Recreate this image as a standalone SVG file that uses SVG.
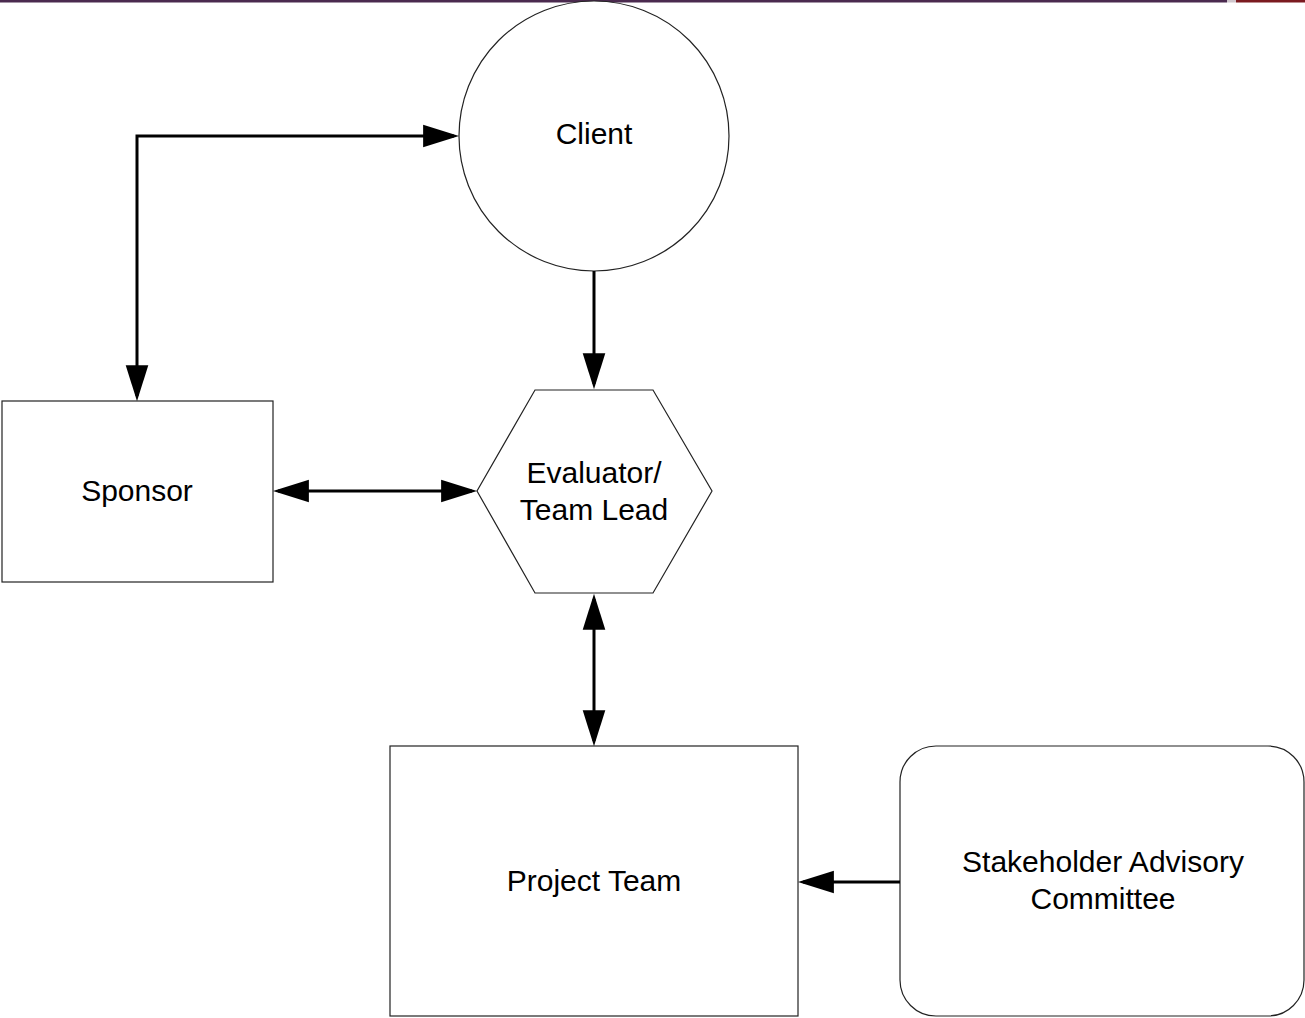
<svg xmlns="http://www.w3.org/2000/svg" width="1305" height="1018" viewBox="0 0 1305 1018">
<style>
.shape{fill:#fff;stroke:#222;stroke-width:1.2}
.lbl{font-family:"Liberation Sans",Arial,sans-serif;font-size:30px;fill:#000;text-anchor:middle}
.conn{fill:none;stroke:#000;stroke-width:3}
</style>
<defs>
<marker id="ah" markerUnits="userSpaceOnUse" markerWidth="36" markerHeight="24" viewBox="0 0 35 22" refX="30" refY="11" orient="auto-start-reverse">
<path d="M0,0 L35,11 L0,22 z" fill="#000"/>
</marker>
</defs>
<rect width="1305" height="1018" fill="#fff"/>
<rect x="0" y="0" width="1227" height="2.5" fill="#4b2a4f"/>
<rect x="1227" y="0" width="9" height="2.5" fill="#cfc6cc"/>
<rect x="1236" y="0" width="69" height="2.5" fill="#7b1a20"/>
<g id="client"><circle class="shape" cx="594" cy="136" r="135"/><text class="lbl" x="594" y="144">Client</text></g>
<g id="sponsor"><rect class="shape" x="2" y="401" width="271" height="181"/><text class="lbl" x="137" y="501">Sponsor</text></g>
<g id="evaluator"><polygon class="shape" points="535,390 653,390 712,491 653,593 535,593 477,491"/><text class="lbl" x="594" y="483">Evaluator/</text><text class="lbl" x="594" y="520">Team Lead</text></g>
<g id="project-team"><rect class="shape" x="390" y="746" width="408" height="270"/><text class="lbl" x="594" y="891">Project Team</text></g>
<g id="stakeholder"><rect class="shape" x="900" y="746" width="404" height="270" rx="36" ry="36"/><text class="lbl" x="1103" y="872">Stakeholder Advisory</text><text class="lbl" x="1103" y="909">Committee</text></g>
<g id="connectors">
<path class="conn" d="M137,396 V136 H454" marker-start="url(#ah)" marker-end="url(#ah)"/>
<path class="conn" d="M594,271 V384" marker-end="url(#ah)"/>
<path class="conn" d="M278,491 H472" marker-start="url(#ah)" marker-end="url(#ah)"/>
<path class="conn" d="M594,599 V741" marker-start="url(#ah)" marker-end="url(#ah)"/>
<path class="conn" d="M900,882 H803" marker-end="url(#ah)"/>
</g>
</svg>
